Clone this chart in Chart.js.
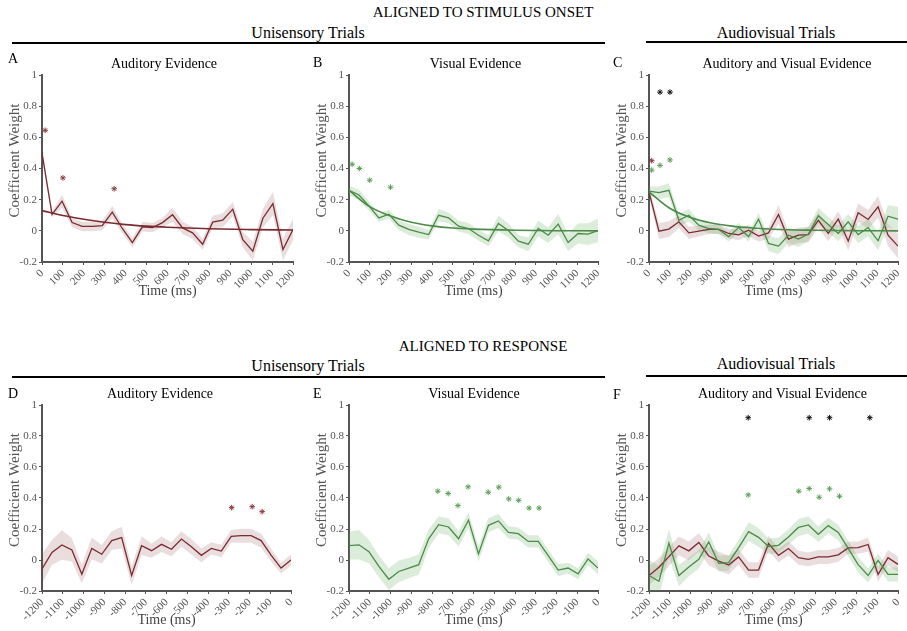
<!DOCTYPE html>
<html><head><meta charset="utf-8">
<script src="https://cdn.jsdelivr.net/npm/chart.js@4.4.0/dist/chart.umd.min.js"></script>
<style>
body{margin:0;background:#fff;width:907px;height:631px;overflow:hidden;position:relative;font-family:"Liberation Serif","Times New Roman",serif;color:#000;}
.h{position:absolute;transform:translate(-50%,-50%);line-height:1;white-space:nowrap;}
.ln{position:absolute;height:2px;background:#000;}
</style></head><body>
<div class="h" style="left:483px;top:12px;font-size:15px">ALIGNED TO STIMULUS ONSET</div>
<div class="h" style="left:308px;top:33px;font-size:16px">Unisensory Trials</div>
<div class="ln" style="left:12px;top:42px;width:593px"></div>
<div class="h" style="left:776px;top:33px;font-size:16px">Audiovisual Trials</div>
<div class="ln" style="left:646px;top:41px;width:261px"></div>
<div class="h" style="left:483px;top:346px;font-size:15px">ALIGNED TO RESPONSE</div>
<div class="h" style="left:308px;top:366px;font-size:16px">Unisensory Trials</div>
<div class="ln" style="left:12px;top:376px;width:593px"></div>
<div class="h" style="left:776px;top:364px;font-size:16px">Audiovisual Trials</div>
<div class="ln" style="left:646px;top:375px;width:261px"></div>
<script>
// ---------- DATA ----------
const onsetTimes = [0,48,96,144,192,240,288,336,384,432,480,528,576,624,672,720,768,816,864,912,960,1008,1056,1104,1152,1200];
const responseTimes = [-1200,-1152,-1104,-1056,-1008,-960,-912,-864,-816,-768,-720,-672,-624,-576,-528,-480,-432,-384,-336,-288,-240,-192,-144,-96,-48,0];
const onsetTickLabels = ['0','100','200','300','400','500','600','700','800','900','1000','1100','1200'];
const responseTickLabels = ['-1200','-1100','-1000','-900','-800','-700','-600','-500','-400','-300','-200','-100','0'];
const yTickLabels = ['-0.2','0','0.2','0.4','0.6','0.8','1'];
const fitTimes = [0,100,200,300,400,500,600,800,1000,1200];

// A: auditory evidence, stimulus onset
const audOnsetMean = [0.50,0.105,0.19,0.053,0.028,0.028,0.034,0.12,0.015,-0.075,0.026,0.021,0.053,0.103,0.019,-0.013,-0.086,0.056,0.068,0.139,-0.056,-0.13,0.081,0.175,-0.12,0.009];
const audOnsetSem  = [0.02,0.02,0.04,0.03,0.03,0.03,0.03,0.04,0.03,0.03,0.03,0.03,0.03,0.045,0.04,0.04,0.035,0.04,0.045,0.045,0.05,0.06,0.06,0.075,0.07,0.07];
const audOnsetFit  = [0.13,0.098,0.074,0.055,0.04,0.03,0.023,0.013,0.008,0.005];
const audOnsetStarT = [15,100,345];
const audOnsetStarV = [0.645,0.34,0.27];

// B: visual evidence, stimulus onset
const visOnsetMean = [0.26,0.23,0.16,0.083,0.107,0.036,0.009,-0.009,-0.024,0.10,0.083,0.030,0.015,-0.028,-0.064,0.047,0.002,-0.066,-0.086,0.015,-0.028,0.043,-0.075,-0.017,-0.021,0.002];
const visOnsetSem  = [0.03,0.035,0.03,0.025,0.03,0.03,0.035,0.035,0.03,0.04,0.035,0.035,0.035,0.035,0.035,0.05,0.045,0.04,0.045,0.05,0.05,0.065,0.055,0.065,0.07,0.075];
const visOnsetFit  = [0.26,0.155,0.095,0.055,0.032,0.018,0.011,0.004,0.001,0];
const visOnsetStarT = [15,50,100,200];
const visOnsetStarV = [0.427,0.40,0.325,0.28];

// C: audiovisual trials, stimulus onset
const avOnsetVisMean = [0.255,0.245,0.26,0.068,0.10,0.036,0.015,0.009,-0.038,0.021,-0.038,0.075,-0.081,-0.098,-0.028,-0.053,-0.021,0.096,0.041,-0.017,0.058,-0.024,0.021,-0.064,0.094,0.075];
const avOnsetVisSem  = [0.03,0.04,0.045,0.04,0.04,0.03,0.03,0.03,0.03,0.03,0.03,0.04,0.05,0.05,0.05,0.05,0.045,0.05,0.05,0.05,0.05,0.055,0.055,0.06,0.07,0.08];
const avOnsetAudMean = [0.25,-0.002,0.011,0.058,-0.013,-0.002,0.009,0.009,-0.017,-0.026,0.004,-0.034,-0.013,0.105,-0.053,-0.028,-0.024,0.068,-0.017,0.075,-0.066,0.116,0.073,0.154,-0.028,-0.098];
const avOnsetAudSem  = [0.03,0.05,0.05,0.04,0.04,0.035,0.03,0.03,0.03,0.035,0.035,0.035,0.04,0.06,0.05,0.05,0.05,0.05,0.05,0.05,0.06,0.06,0.06,0.07,0.07,0.08];
const avOnsetVisFit  = [0.25,0.145,0.085,0.05,0.03,0.018,0.01,0.004,0.001,0];
const avOnsetBothStarT = [53,101];
const avOnsetBothStarV = [0.89,0.89];
const avOnsetAudStarT = [13];
const avOnsetAudStarV = [0.45];
const avOnsetVisStarT = [13,53,101];
const avOnsetVisStarV = [0.39,0.42,0.455];

// D: auditory evidence, response
const audRespMean = [-0.058,0.049,0.097,0.065,-0.092,0.075,0.037,0.125,0.144,-0.10,0.092,0.060,0.101,0.069,0.135,0.086,0.030,0.075,0.058,0.153,0.157,0.157,0.125,0.032,-0.052,0.0];
const audRespSem  = [0.095,0.08,0.095,0.075,0.06,0.07,0.06,0.06,0.07,0.06,0.06,0.045,0.05,0.045,0.05,0.05,0.045,0.04,0.04,0.04,0.045,0.045,0.045,0.04,0.035,0.035];
const audRespStarT = [-286,-187,-139];
const audRespStarV = [0.338,0.344,0.312];

// E: visual evidence, response
const visRespMean = [0.093,0.098,0.054,-0.041,-0.124,-0.074,-0.052,-0.030,0.137,0.228,0.213,0.137,0.257,0.039,0.224,0.252,0.178,0.17,0.12,0.12,0.028,-0.065,-0.052,-0.089,0.0065,-0.052];
const visRespSem  = [0.09,0.095,0.075,0.07,0.07,0.07,0.065,0.065,0.06,0.055,0.055,0.05,0.05,0.05,0.045,0.045,0.04,0.04,0.04,0.04,0.04,0.04,0.035,0.035,0.04,0.04];
const visRespStarT = [-772,-722,-675,-626,-529,-478,-430,-382,-332,-284];
const visRespStarV = [0.444,0.429,0.351,0.472,0.437,0.47,0.394,0.385,0.335,0.335];

// F: audiovisual trials, response
const avRespVisMean = [-0.10,-0.137,0.109,-0.10,-0.045,0.005,0.117,-0.022,-0.017,0.08,0.183,0.146,0.087,0.095,0.148,0.21,0.226,0.166,0.222,0.178,0.075,-0.03,-0.10,-0.003,-0.093,-0.093];
const avRespVisSem  = [0.1,0.1,0.09,0.07,0.06,0.06,0.06,0.05,0.05,0.05,0.06,0.06,0.05,0.05,0.05,0.055,0.055,0.05,0.05,0.05,0.05,0.05,0.045,0.045,0.045,0.045];
const avRespAudMean = [-0.10,-0.047,0.022,0.091,0.059,0.113,0.026,-0.007,-0.033,0.02,-0.065,-0.065,0.107,0.03,0.074,0.015,0.004,0.02,0.02,0.033,0.078,0.08,0.10,-0.093,0.015,-0.028];
const avRespAudSem  = [0.06,0.06,0.06,0.06,0.06,0.06,0.06,0.06,0.06,0.05,0.05,0.05,0.05,0.045,0.045,0.045,0.045,0.045,0.045,0.045,0.04,0.04,0.045,0.045,0.05,0.05];
const avRespBothStarT = [-722,-428,-330,-136];
const avRespBothStarV = [0.918,0.918,0.918,0.918];
const avRespVisStarT = [-722,-478,-428,-380,-330,-282];
const avRespVisStarV = [0.42,0.444,0.461,0.405,0.459,0.411];

// ---------- STYLE ----------
const SERIF = '"Liberation Serif", "Times New Roman", serif';
const RED = '#7a2b30', RED_BAND = 'rgba(125,55,60,0.17)', RED_STAR = '#8a3b40';
const GREEN = '#4c8a47', GREEN_BAND = 'rgba(95,170,85,0.22)', GREEN_STAR = '#5f9f5a';
const AXIS = '#555';

const onsetX = {labels: onsetTickLabels, min: 0, max: 1200};
const respX = {labels: responseTickLabels, min: -1200, max: 0};

const panels = [
  {letter:'A', lx:8, ly:63, title:'Auditory Evidence', tx:164, ty:67.5,
   area:{left:42, top:75, right:293, bottom:262}, xs: onsetX,
   series:[{t:onsetTimes, mean:audOnsetMean, sem:audOnsetSem, color:RED, band:RED_BAND}],
   fits:[{t:fitTimes, v:audOnsetFit, color:RED}],
   stars:[{t:audOnsetStarT, v:audOnsetStarV, color:RED_STAR}]},
  {letter:'B', lx:313, ly:66.5, title:'Visual Evidence', tx:475.5, ty:67.5,
   area:{left:349, top:75, right:598, bottom:262}, xs: onsetX,
   series:[{t:onsetTimes, mean:visOnsetMean, sem:visOnsetSem, color:GREEN, band:GREEN_BAND}],
   fits:[{t:fitTimes, v:visOnsetFit, color:GREEN}],
   stars:[{t:visOnsetStarT, v:visOnsetStarV, color:GREEN_STAR}]},
  {letter:'C', lx:613, ly:67, title:'Auditory and Visual Evidence', tx:787, ty:67.5,
   area:{left:649, top:75, right:898, bottom:262}, xs: onsetX,
   series:[{t:onsetTimes, mean:avOnsetVisMean, sem:avOnsetVisSem, color:GREEN, band:GREEN_BAND},
           {t:onsetTimes, mean:avOnsetAudMean, sem:avOnsetAudSem, color:RED, band:RED_BAND}],
   fits:[{t:fitTimes, v:avOnsetVisFit, color:GREEN}],
   stars:[{t:avOnsetBothStarT, v:avOnsetBothStarV, color:'#111'},
          {t:avOnsetAudStarT, v:avOnsetAudStarV, color:RED_STAR},
          {t:avOnsetVisStarT, v:avOnsetVisStarV, color:GREEN_STAR}]},
  {letter:'D', lx:8, ly:398, title:'Auditory Evidence', tx:160, ty:398,
   area:{left:42, top:405, right:291, bottom:591}, xs: respX,
   series:[{t:responseTimes, mean:audRespMean, sem:audRespSem, color:RED, band:RED_BAND}],
   fits:[], stars:[{t:audRespStarT, v:audRespStarV, color:RED_STAR}]},
  {letter:'E', lx:313, ly:398, title:'Visual Evidence', tx:474, ty:398,
   area:{left:349, top:405, right:598, bottom:591}, xs: respX,
   series:[{t:responseTimes, mean:visRespMean, sem:visRespSem, color:GREEN, band:GREEN_BAND}],
   fits:[], stars:[{t:visRespStarT, v:visRespStarV, color:GREEN_STAR}]},
  {letter:'F', lx:613, ly:399, title:'Auditory and Visual Evidence', tx:782.5, ty:398,
   area:{left:649, top:405, right:898, bottom:591}, xs: respX,
   series:[{t:responseTimes, mean:avRespVisMean, sem:avRespVisSem, color:GREEN, band:GREEN_BAND},
           {t:responseTimes, mean:avRespAudMean, sem:avRespAudSem, color:RED, band:RED_BAND}],
   fits:[], stars:[{t:avRespBothStarT, v:avRespBothStarV, color:'#111'},
                   {t:avRespVisStarT, v:avRespVisStarV, color:GREEN_STAR}]}
];

const panelInfo = new WeakMap();

const textPlugin = {
  id: 'panelText',
  afterDraw(chart) {
    const info = panelInfo.get(chart.canvas);
    if (!info) return;
    const p = info.p, L = info.L, T = info.T, ctx = chart.ctx;
    ctx.save();
    ctx.fillStyle = '#000';
    ctx.textBaseline = 'alphabetic';
    ctx.font = '14px ' + SERIF;
    ctx.textAlign = 'left';
    ctx.fillText(p.letter, p.lx - L, p.ly - T);
    ctx.textAlign = 'center';
    ctx.fillText(p.title, p.tx - L, p.ty - T);
    const a = chart.chartArea;
    ctx.translate(a.left - 27, (a.top + a.bottom) / 2 - 8);
    ctx.rotate(-Math.PI / 2);
    ctx.font = '15px ' + SERIF;
    ctx.fillStyle = '#555';
    ctx.textBaseline = 'middle';
    ctx.fillText('Coefficient Weight', 0, 0);
    ctx.restore();
  }
};

function makePanel(p) {
  const L = p.area.left - 40, T = p.area.top - 25;
  const W = p.area.right + 10 - L, H = p.area.bottom + 40 - T;
  const div = document.createElement('div');
  div.style.cssText = `position:absolute;left:${L}px;top:${T}px;width:${W}px;height:${H}px;`;
  const cv = document.createElement('canvas');
  div.appendChild(cv);
  document.body.appendChild(div);
  panelInfo.set(cv, {p, L, T});
  const xVals = p.xs.labels.map(Number);
  const yVals = yTickLabels.map(Number);
  const ds = [];
  p.series.forEach(s => {
    ds.push({data: s.t.map((t, i) => ({x: t, y: s.mean[i] - s.sem[i]})), borderColor: 'rgba(0,0,0,0)', borderWidth: 0, pointRadius: 0, fill: false, order: 10});
    ds.push({data: s.t.map((t, i) => ({x: t, y: s.mean[i] + s.sem[i]})), borderColor: 'rgba(0,0,0,0)', borderWidth: 0, pointRadius: 0, fill: '-1', backgroundColor: s.band, order: 10});
  });
  p.series.forEach(s => ds.push({data: s.t.map((t, i) => ({x: t, y: s.mean[i]})), borderColor: s.color, borderWidth: 1.3, pointRadius: 0, fill: false, tension: 0, order: 2}));
  p.fits.forEach(f => ds.push({data: f.t.map((t, i) => ({x: t, y: f.v[i]})), borderColor: f.color, borderWidth: 1.6, pointRadius: 0, fill: false, tension: 0.4, cubicInterpolationMode: 'monotone', order: 1}));
  p.stars.forEach(s => ds.push({data: s.t.map((t, i) => ({x: t, y: s.v[i]})), showLine: false, pointStyle: 'star', pointRadius: 2.8, borderColor: s.color, backgroundColor: s.color, borderWidth: 1, order: 0}));

  new Chart(cv, {
    type: 'line',
    data: {datasets: ds},
    plugins: [textPlugin],
    options: {
      responsive: true, maintainAspectRatio: false, animation: false, devicePixelRatio: 1, events: [],
      layout: {padding: {left: 0, right: 10, top: 25, bottom: 0}},
      plugins: {legend: {display: false}, tooltip: {enabled: false}, title: {display: false}},
      scales: {
        x: {
          type: 'linear', min: p.xs.min, max: p.xs.max,
          afterBuildTicks: s => { s.ticks = xVals.map(v => ({value: v})); },
          ticks: {autoSkip: false, minRotation: 45, maxRotation: 45, color: '#555', padding: 2,
                  font: {family: SERIF, size: 11}, callback: (v, i) => p.xs.labels[i]},
          grid: {display: true, drawOnChartArea: false, drawTicks: true, tickLength: 3, color: AXIS, lineWidth: 1},
          border: {display: true, color: AXIS, width: 2},
          title: {display: true, text: 'Time (ms)', color: '#444', font: {family: SERIF, size: 14}, padding: {top: 0, bottom: 2.6}},
          afterFit: s => { s.height = 40; s.paddingLeft = 0; s.paddingRight = 0; }
        },
        y: {
          type: 'linear', min: -0.2, max: 1,
          afterBuildTicks: s => { s.ticks = yVals.map(v => ({value: v})); },
          ticks: {color: '#555', padding: 2, font: {family: SERIF, size: 11}, callback: (v, i) => yTickLabels[i]},
          grid: {display: true, drawOnChartArea: false, drawTicks: true, tickLength: 3, color: AXIS, lineWidth: 1},
          border: {display: true, color: AXIS, width: 2},
          afterFit: s => { s.width = p.area.left - L; s.paddingTop = 0; s.paddingBottom = 0; }
        }
      }
    }
  });
}

panels.forEach(makePanel);
</script>
</body></html>
